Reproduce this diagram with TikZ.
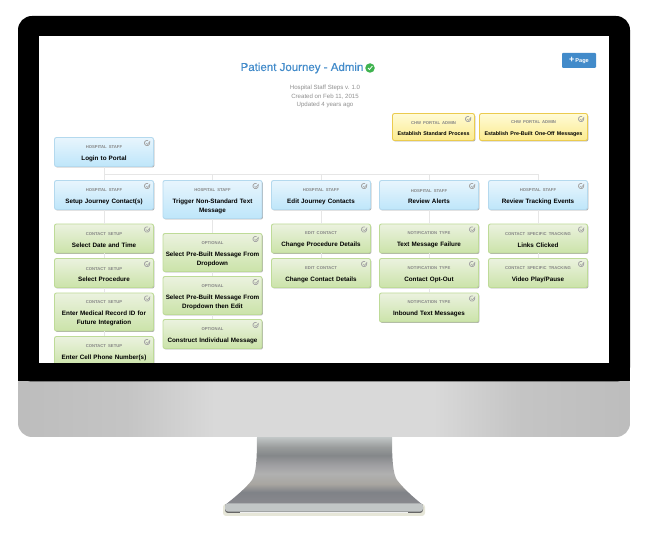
\documentclass[tikz,border=0pt]{standalone}
\usepackage{fontspec}
\setmainfont{Liberation Sans}
\newfontfamily\titlefont[FakeBold=0.25]{Liberation Sans}
\usetikzlibrary{positioning,calc,shadows}

\definecolor{linkblue}{HTML}{428BCA}
\definecolor{okgreen}{HTML}{3FB34F}
\definecolor{kickergray}{HTML}{858585}
\definecolor{subgray}{HTML}{8F8F8F}
\definecolor{wiregray}{HTML}{E6E6E6}
\definecolor{staffline}{HTML}{B4D9EE}
\definecolor{stafftop}{HTML}{E8F5FD}
\definecolor{staffbottom}{HTML}{BEE6FA}
\definecolor{setupline}{HTML}{BEDB98}
\definecolor{setuptop}{HTML}{EBF2DF}
\definecolor{setupbottom}{HTML}{CBE3A9}
\definecolor{adminline}{HTML}{EBCB4E}
\definecolor{admintop}{HTML}{FFFBD6}
\definecolor{adminbottom}{HTML}{FBEB8F}
\definecolor{footmetal}{HTML}{C2C6C6}
\definecolor{foothalo}{HTML}{E6E6D8}

% only 25bp to 75bp of a shading is seen; y points down, so 25bp is the top of the stand
\pgfdeclareverticalshading{standmetal}{100bp}{
  rgb(0bp)=(.54,.54,.56); rgb(25bp)=(.54,.54,.56); rgb(34.5bp)=(.50,.51,.53); rgb(40.5bp)=(.66,.65,.63);
  rgb(48bp)=(.69,.69,.69); rgb(54bp)=(.63,.63,.64); rgb(61.5bp)=(.52,.53,.54);
  rgb(67.5bp)=(.60,.61,.61); rgb(75bp)=(.76,.78,.78); rgb(100bp)=(.76,.78,.78)}
\pgfdeclarehorizontalshading{chinmetal}{100bp}{
  rgb(0bp)=(.74,.74,.74); rgb(25bp)=(.74,.74,.74); rgb(34bp)=(.77,.77,.77); rgb(41bp)=(.85,.85,.85);
  rgb(59bp)=(.85,.85,.85); rgb(66bp)=(.77,.77,.77); rgb(75bp)=(.74,.74,.74); rgb(100bp)=(.74,.74,.74)}

\tikzset{
  card/.style={draw, rounded corners=2pt, line width=.9pt, align=center, inner sep=1pt,
    minimum width=99pt, minimum height=29pt, text width=97pt, font=\bfseries\fontsize{6.3}{9.1}\selectfont,
    text=black, drop shadow={shadow xshift=.9pt, shadow yshift=-1pt, fill=black!45, opacity=.7}},
  tallcard/.style={minimum height=38pt},
  staffcard/.style={card, draw=staffline, top color=stafftop, bottom color=staffbottom},
  setupcard/.style={card, draw=setupline, top color=setuptop, bottom color=setupbottom},
  admincard/.style={card, draw=adminline, top color=admintop, bottom color=adminbottom, minimum height=27pt},
  wire/.style={draw=wiregray, line width=.8pt},
  subline/.style={text=subgray, font=\fontsize{6.1}{8}\selectfont, inner sep=0pt},
  cardmark/.pic={
    \draw[black!35, line width=.8pt] (2.7,-1) arc[start angle=-20, end angle=290, radius=2.7];
    \draw[black!35, line width=.6pt] (-1,0) -- (.5,1.3) -- (3.2,-2);
  }
}

% two lines of a card
\newcommand{\cardtext}[2]{{\fontsize{4.2}{6}\selectfont\rule{0pt}{6pt}\textcolor{kickergray}{#1}}\\[2.8pt]#2}

\begin{document}
\begin{tikzpicture}[x=1pt, y=-1pt]
  \useasboundingbox (0,0) rectangle (649,537);

  % Stand and foot
  \fill[foothalo, rounded corners=3pt] (223,504) rectangle (425,516);
  \path[shading=standmetal] (257,437) .. controls (257,460) and (256,474) .. (252,480)
    .. controls (246,488) and (234,498) .. (225,505) -- (423,505)
    .. controls (414,498) and (403,488) .. (397,480) .. controls (393,474) and (392,460) .. (392,437) -- cycle;
  \fill[black!60, rounded corners=3pt] (225,504) rectangle (423,513);
  \fill[black!6] (240,512) rectangle (408,512.9);
  \fill[footmetal, rounded corners=3pt] (225,503.5) rectangle (423,511.6);

  % Body of the monitor
  \path[shading=chinmetal, rounded corners=14pt]
    (18,370) -- (18,437) -- (630,437) -- (630,370) -- cycle;
  \fill[black, rounded corners=14pt] (18,16) rectangle (630,381.5);
  \fill[black, sharp corners] (18,370) rectangle (630,381.5);
  \fill[white] (39,36) rectangle (609,363);

  \begin{scope}
    \clip (39,36) rectangle (609,363);

    % Page header
    \node[text=linkblue, font=\titlefont\fontsize{11.5}{14}\selectfont, inner sep=0pt] (pagetitle) at (302,68) {Patient Journey - Admin};
    \node[circle, fill=okgreen, minimum size=9.5pt, inner sep=0pt, right=1.5pt of pagetitle] (titlemark) {};
    \draw[white, line width=.8pt] ($(titlemark)+(-2,0)$) -- ++(1.5,1.5) -- ++(2.8,-3.4);
    \node[subline] (subone) at (325,88) {Hospital Staff Steps v. 1.0};
    \node[subline] (subtwo) at (325,96.5) {Created on Feb 11, 2015};
    \node[subline] (subthree) at (325,105) {Updated 4 years ago};
    \node[fill=linkblue, rounded corners=1pt, text=white, minimum width=34pt, minimum height=15pt, inner sep=0pt,
      font=\bfseries\fontsize{5.6}{7}\selectfont] (addpage) at (579,60.5) {{\fontsize{9}{9}\selectfont +}\,Page};

    % Admin cards
    \node[admincard, minimum width=82pt, text width=80pt] (standard) at (433.5,127) {\cardtext{CHW PORTAL ADMIN}{\fontsize{5.35}{8}\selectfont Establish Standard Process}};
    \node[admincard, minimum width=108pt, text width=106pt] (oneoff) at (533.5,127) {\cardtext{CHW PORTAL ADMIN}{\fontsize{5.35}{8}\selectfont Establish Pre-Built One-Off Messages}};

    % Staff cards
    \coordinate (bus) at (104,174);
    \node[staffcard] (login) at (104,152) {\cardtext{HOSPITAL STAFF}{Login to Portal}};
    \node[staffcard] (setup) at (104,195) {\cardtext{HOSPITAL STAFF}{Setup Journey Contact(s)}};
    \node[staffcard, tallcard] (trigger) at (212.5,199.5) {\cardtext{HOSPITAL STAFF}{Trigger Non-Standard Text\\Message}};
    \node[staffcard] (edit) at (321,195) {\cardtext{HOSPITAL STAFF}{Edit Journey Contacts}};
    \node[staffcard] (alerts) at (429,195) {\cardtext{HOSPITAL STAFF}{Review Alerts}};
    \node[staffcard] (tracking) at (538,195) {\cardtext{HOSPITAL STAFF}{Review Tracking Events}};

    % Contact setup column
    \node[setupcard] (datetime) at (104,238.5) {\cardtext{CONTACT SETUP}{Select Date and Time}};
    \node[setupcard] (procedure) at (104,273) {\cardtext{CONTACT SETUP}{Select Procedure}};
    \node[setupcard, tallcard] (medical) at (104,312) {\cardtext{CONTACT SETUP}{Enter Medical Record ID for\\Future Integration}};
    \node[setupcard] (cellphone) at (104,351) {\cardtext{CONTACT SETUP}{Enter Cell Phone Number(s)}};

    % Optional column
    \node[setupcard, tallcard] (dropdown) at (212.5,252.5) {\cardtext{OPTIONAL}{Select Pre-Built Message From\\Dropdown}};
    \node[setupcard, tallcard] (dropedit) at (212.5,295.5) {\cardtext{OPTIONAL}{Select Pre-Built Message From\\Dropdown then Edit}};
    \node[setupcard] (construct) at (212.5,334) {\cardtext{OPTIONAL}{Construct Individual Message}};

    % Edit column
    \node[setupcard] (procdetails) at (321,238.5) {\cardtext{EDIT CONTACT}{Change Procedure Details}};
    \node[setupcard] (contactdetails) at (321,273) {\cardtext{EDIT CONTACT}{Change Contact Details}};

    % Notification column
    \node[setupcard] (failure) at (429,238.5) {\cardtext{NOTIFICATION TYPE}{Text Message Failure}};
    \node[setupcard] (optout) at (429,273) {\cardtext{NOTIFICATION TYPE}{Contact Opt-Out}};
    \node[setupcard] (inbound) at (429,307.5) {\cardtext{NOTIFICATION TYPE}{Inbound Text Messages}};

    % Tracking column
    \node[setupcard] (links) at (538,238.5) {\cardtext{CONTACT SPECIFIC TRACKING}{Links Clicked}};
    \node[setupcard] (video) at (538,273) {\cardtext{CONTACT SPECIFIC TRACKING}{Video Play/Pause}};

    % Connectors
    \foreach \c in {trigger,edit,alerts,tracking}
      \path[wire] (bus) -| (\c.north);
    \foreach \a/\b in {login/setup,setup/datetime,datetime/procedure,procedure/medical,medical/cellphone,
      trigger/dropdown,dropdown/dropedit,dropedit/construct,edit/procdetails,procdetails/contactdetails,
      alerts/failure,failure/optout,optout/inbound,tracking/links,links/video}
      \path[wire] (\a.south) -- (\b.north);

    % Marks in the card corners
    \foreach \c in {standard,oneoff,login,setup,trigger,edit,alerts,tracking,datetime,procedure,medical,cellphone,
      dropdown,dropedit,construct,procdetails,contactdetails,failure,optout,inbound,links,video}
      \pic at ($(\c.north east)+(-7,6)$) {cardmark};
  \end{scope}

\end{tikzpicture}
\end{document}
